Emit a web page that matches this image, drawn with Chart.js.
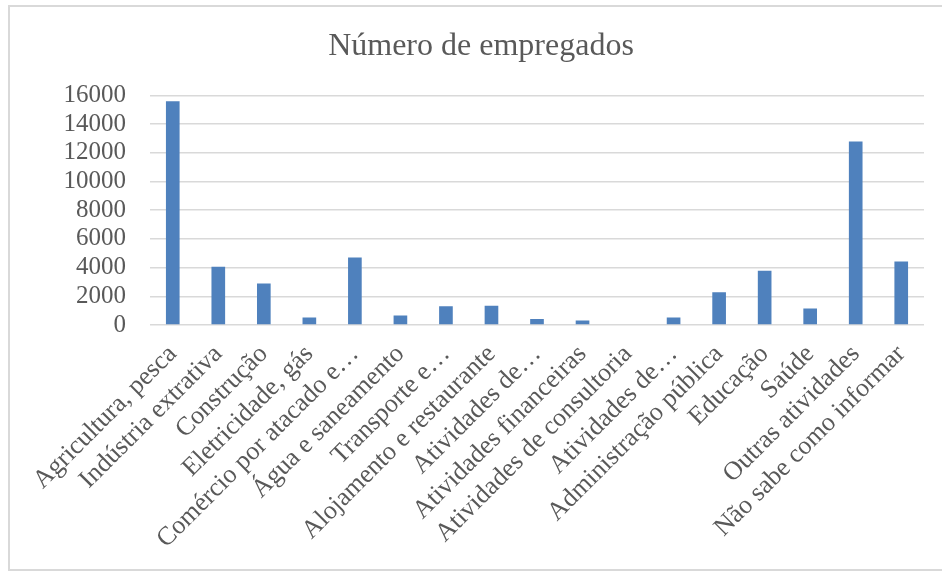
<!DOCTYPE html>
<html>
<head>
<meta charset="utf-8">
<script src="https://cdn.jsdelivr.net/npm/chart.js@4"></script>
<style>
    html, body { margin: 0; padding: 0; overflow: hidden; background: #fff; }
    #frame {
        position: absolute; left: 8px; top: 5px; width: 1000px; height: 566px;
        box-sizing: border-box; border: 2px solid #d9d9d9;
    }
    #wrap { position: absolute; left: 0; top: 0; width: 962px; height: 571px; }
</style>
</head>
<body>
<div id="frame"></div>
<div id="wrap"><canvas id="chart"></canvas></div>
<script>
// Chart data
const categories = [
    'Agricultura, pesca', 'Indústria extrativa', 'Construção', 'Eletricidade, gás',
    'Comércio por atacado e…', 'Água e saneamento', 'Transporte e…',
    'Alojamento e restaurante', 'Atividades de…', 'Atividades financeiras',
    'Atividades de consultoria', 'Atividades de…', 'Administração pública',
    'Educação', 'Saúde', 'Outras atividades', 'Não sabe como informar'
];
const employees = [15600, 4060, 2900, 530, 4700, 670, 1300, 1340, 410, 320, 60, 520, 2280, 3780, 1150, 12780, 4420];
const yTicks = [0, 2000, 4000, 6000, 8000, 10000, 12000, 14000, 16000];

const textColor = '#595959';
const fontFamily = "'Liberation Serif', 'Times New Roman', serif";

document.addEventListener('DOMContentLoaded', function() {
    const ctx = document.getElementById('chart').getContext('2d');
    new Chart(ctx, {
        type: 'bar',
        data: {
            labels: categories,
            datasets: [{
                label: 'Número de empregados',
                data: employees,
                backgroundColor: '#4F81BD',
                borderWidth: 0,
                barPercentage: 1,
                categoryPercentage: 0.3
            }]
        },
        options: {
            responsive: true,
            maintainAspectRatio: false,
            animation: false,
            // symmetric side padding keeps the title centred on the frame
            layout: { padding: { left: 38, right: 38, top: 0, bottom: 0 } },
            plugins: {
                legend: { display: false },
                tooltip: { enabled: false },
                title: {
                    display: true,
                    text: 'Número de empregados',
                    color: textColor,
                    font: { family: fontFamily, size: 32, weight: 'normal' },
                    padding: { top: 27, bottom: 30 }
                }
            },
            scales: {
                y: {
                    min: 0,
                    max: yTicks[yTicks.length - 1],
                    afterBuildTicks: function(scale) {
                        scale.ticks = yTicks.map(v => ({ value: v }));
                    },
                    afterFit: function(scale) { scale.width = 112; },
                    ticks: {
                        color: textColor,
                        padding: 24,
                        autoSkip: false,
                        font: { family: fontFamily, size: 25 },
                        callback: function(value) { return String(value); }
                    },
                    grid: { color: '#d9d9d9', lineWidth: 1.5, drawTicks: false },
                    border: { display: false }
                },
                x: {
                    afterFit: function(scale) { scale.height = 246; },
                    ticks: {
                        color: textColor,
                        minRotation: 45,
                        maxRotation: 45,
                        autoSkip: false,
                        padding: 6,
                        font: { family: fontFamily, size: 26 }
                    },
                    grid: { display: false },
                    border: { display: false }
                }
            }
        }
    });
});
</script>
</body>
</html>
